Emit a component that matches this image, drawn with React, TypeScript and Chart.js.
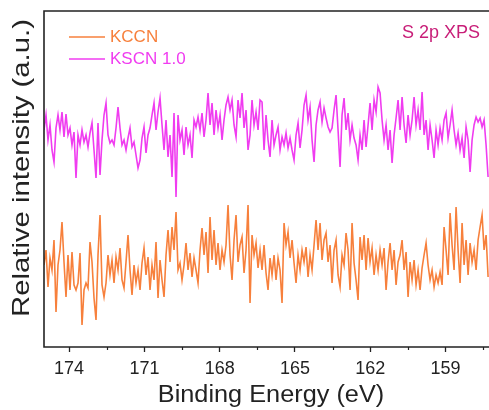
import React, { useEffect, useRef } from "react";
import { Chart, registerables } from "chart.js";

Chart.register(...registerables);

// Binding-energy grid (eV), descending, evenly spaced
const E_START = 175.0;
const E_STEP = 0.0797;
const X_MIN = 157.27;
const X_MAX = 175.0;

const MAJOR_TICKS = [174, 171, 168, 165, 162, 159];
const MINOR_TICKS = [172.5, 169.5, 166.5, 163.5, 160.5, 157.5];

const SERIES_LABELS = ["KCCN", "KSCN 1.0"];

// Relative intensity (a.u.)
const KSCN = [
  217, 232, 207, 222, 197, 185, 219, 232, 217, 235, 210, 233, 212, 219, 202, 215, 169, 212, 202, 217,
  205, 212, 200, 214, 224, 197, 169, 224, 172, 207, 232, 244, 212, 204, 207, 202, 219, 240, 219, 202,
  207, 197, 209, 219, 200, 205, 192, 179, 187, 209, 220, 194, 212, 219, 232, 244, 217, 235, 249, 222,
  197, 227, 190, 212, 170, 234, 150, 232, 207, 217, 192, 220, 202, 212, 189, 227, 220, 230, 217, 234,
  210, 227, 254, 222, 244, 212, 237, 219, 232, 207, 227, 242, 250, 237, 247, 222, 210, 247, 229, 254,
  219, 237, 197, 212, 247, 222, 235, 217, 247, 245, 197, 232, 207, 190, 227, 202, 212, 220, 197, 210,
  202, 214, 199, 209, 197, 187, 212, 224, 199, 217, 242, 252, 227, 240, 207, 185, 222, 237, 245, 225,
  239, 229, 220, 215, 219, 237, 252, 217, 180, 232, 249, 217, 234, 207, 222, 209, 202, 187, 212, 197,
  227, 200, 222, 244, 217, 247, 235, 260, 254, 227, 207, 222, 197, 217, 184, 212, 229, 247, 217, 250,
  222, 204, 232, 212, 227, 250, 222, 237, 217, 255, 212, 227, 197, 222, 207, 189, 217, 202, 219, 207,
  227, 234, 209, 222, 237, 217, 202, 214, 197, 209, 189, 220, 207, 175, 207, 222, 230, 225, 229, 220,
  227, 202, 170,
];

const KCCN = [
  82, 97, 60, 89, 77, 107, 35, 82, 97, 125, 85, 50, 92, 57, 95, 62, 57, 64, 94, 22,
  57, 64, 59, 105, 85, 49, 27, 92, 132, 62, 50, 64, 92, 72, 87, 64, 90, 77, 99, 67,
  59, 85, 112, 77, 52, 82, 64, 77, 57, 84, 99, 72, 90, 57, 82, 67, 105, 49, 87, 67,
  50, 92, 117, 85, 120, 97, 135, 77, 84, 67, 82, 104, 77, 94, 70, 89, 77, 64, 97, 119,
  92, 115, 74, 130, 87, 117, 82, 104, 77, 97, 85, 102, 142, 92, 67, 107, 132, 85, 102, 110,
  74, 97, 142, 44, 112, 92, 104, 79, 97, 77, 102, 74, 57, 89, 72, 92, 67, 89, 77, 44,
  124, 102, 115, 89, 107, 84, 64, 92, 77, 97, 85, 100, 70, 92, 77, 102, 127, 97, 124, 87,
  107, 114, 85, 102, 64, 97, 107, 72, 60, 92, 82, 114, 97, 57, 124, 84, 67, 47, 110, 87,
  112, 77, 109, 85, 99, 72, 92, 77, 97, 82, 99, 57, 85, 104, 77, 97, 62, 85, 92, 107,
  77, 95, 50, 85, 67, 87, 62, 77, 57, 79, 92, 104, 82, 67, 77, 60, 72, 64, 75, 62,
  120, 97, 72, 134, 102, 77, 140, 97, 64, 124, 82, 107, 72, 104, 85, 97, 77, 107, 120, 132,
  97, 112, 70,
];

const ORANGE = "#F7803C";
const MAGENTA = "#F03CF0";
const AXIS = "#222222";
const FONT = "'Liberation Sans', Arial, sans-serif";

const toPoints = (vals: number[]) => vals.map((v, i) => ({ x: E_START - i * E_STEP, y: v }));

const decor = {
  id: "decor",
  afterDraw(chart: any) {
    const { ctx, chartArea: a, scales } = chart;
    ctx.save();
    // frame: left, top, bottom
    ctx.strokeStyle = AXIS;
    ctx.lineWidth = 1.6;
    ctx.beginPath();
    ctx.moveTo(chart.width + 2, a.top);
    ctx.lineTo(a.left, a.top);
    ctx.lineTo(a.left, a.bottom);
    ctx.lineTo(chart.width + 2, a.bottom);
    ctx.stroke();
    // minor ticks
    ctx.lineWidth = 1.2;
    ctx.beginPath();
    for (const v of MINOR_TICKS) {
      const px = Math.round(scales.x.getPixelForValue(v)) + 0.5;
      ctx.moveTo(px, a.bottom);
      ctx.lineTo(px, a.bottom + 3);
    }
    ctx.stroke();
    // legend
    const rows = [37, 59];
    chart.data.datasets.forEach((ds: any, i: number) => {
      const y = rows[i];
      ctx.strokeStyle = ds.borderColor;
      ctx.lineWidth = 1.4;
      ctx.beginPath();
      ctx.moveTo(69, y);
      ctx.lineTo(105, y);
      ctx.stroke();
      ctx.fillStyle = ds.borderColor;
      ctx.font = `17px ${FONT}`;
      ctx.textBaseline = "middle";
      ctx.textAlign = "left";
      ctx.fillText(ds.label, 110, y);
    });
    // annotation
    ctx.fillStyle = "#C81E78";
    ctx.font = `18px ${FONT}`;
    ctx.textAlign = "left";
    ctx.fillText("S 2p XPS", 402, 33);
    // axis titles
    ctx.fillStyle = AXIS;
    ctx.textAlign = "center";
    ctx.save();
    ctx.translate(271, 396);
    ctx.scale(1.1, 1);
    ctx.font = `23px ${FONT}`;
    ctx.fillText("Binding Energy (eV)", 0, 0);
    ctx.restore();
    ctx.save();
    ctx.translate(22, 168);
    ctx.rotate(-Math.PI / 2);
    ctx.scale(1.22, 1);
    ctx.font = `24px ${FONT}`;
    ctx.fillText("Relative intensity (a.u.)", 0, 0);
    ctx.restore();
    ctx.restore();
  },
};

export default function App() {
  const ref = useRef<HTMLCanvasElement>(null);
  useEffect(() => {
    if (!ref.current) return;
    const chart = new Chart(ref.current, {
      type: "line",
      data: {
        datasets: [
          {
            label: SERIES_LABELS[0],
            data: toPoints(KCCN),
            borderColor: ORANGE,
            borderWidth: 1.6,
            pointRadius: 0,
            tension: 0,
          },
          {
            label: SERIES_LABELS[1],
            data: toPoints(KSCN),
            borderColor: MAGENTA,
            borderWidth: 1.6,
            pointRadius: 0,
            tension: 0,
          },
        ],
      },
      options: {
        animation: false,
        responsive: false,
        devicePixelRatio: 1,
        layout: { padding: { top: 11, right: 0, left: 0, bottom: 0 } },
        plugins: { legend: { display: false }, tooltip: { enabled: false } },
        scales: {
          x: {
            type: "linear",
            reverse: true,
            min: X_MIN,
            max: X_MAX,
            afterBuildTicks: (s: any) => {
              s.ticks = MAJOR_TICKS.map((v) => ({ value: v }));
            },
            afterFit: (s: any) => {
              s.height = 63;
            },
            ticks: {
              autoSkip: false,
              maxRotation: 0,
              padding: 6,
              color: AXIS,
              font: { family: FONT, size: 18 },
              callback: (v: any) => String(v),
            },
            grid: {
              display: true,
              drawOnChartArea: false,
              drawTicks: true,
              tickLength: 5,
              tickWidth: 1.3,
              tickColor: AXIS,
            },
            border: { display: false },
          },
          y: {
            type: "linear",
            min: 0,
            max: 336,
            afterFit: (s: any) => {
              s.width = 44;
            },
            ticks: { display: false },
            grid: { display: false, drawTicks: false },
            border: { display: false },
          },
        },
      },
      plugins: [decor],
    });
    return () => chart.destroy();
  }, []);
  return (
    <div style={{ position: "absolute", left: 0, top: 0, width: 489, height: 410, background: "#fff" }}>
      <canvas ref={ref} width={489} height={410} style={{ display: "block" }} />
    </div>
  );
}
